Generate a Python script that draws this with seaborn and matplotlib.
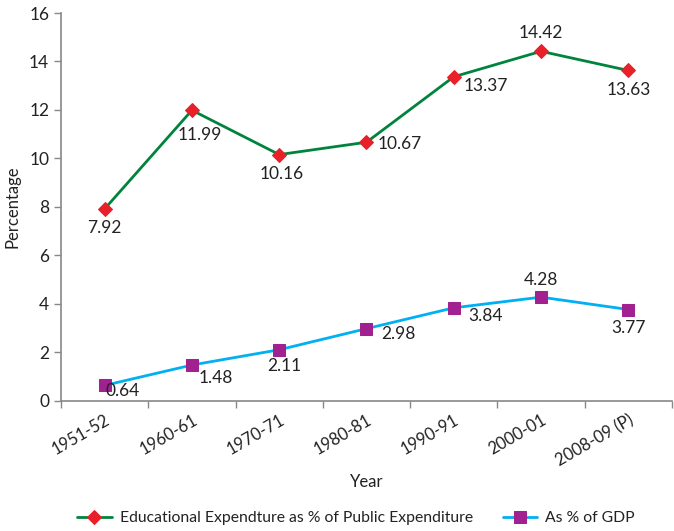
import matplotlib
matplotlib.use("Agg")
import matplotlib.pyplot as plt
import pandas as pd
import seaborn as sb

years = ["1951-52", "1960-61", "1970-71", "1980-81", "1990-91", "2000-01", "2008-09 (P)"]
edu_public = [7.92, 11.99, 10.16, 10.67, 13.37, 14.42, 13.63]
edu_gdp = [0.64, 1.48, 2.11, 2.98, 3.84, 4.28, 3.77]

# label offsets in points (dx, dy)
pub_offsets = [(0, -14), (6, -18), (2, -14), (24, -1), (23, -7), (0, 13), (0, -14)]
gdp_offsets = [(13, -4), (17, -9), (4, -12), (23, -4), (23, -6), (0, 12), (0, -13)]

df = pd.DataFrame({"Year": years, "pub": edu_public, "gdp": edu_gdp})

sb.set_style("white")
plt.rcParams["font.family"] = ["Lato", "DejaVu Sans"]

green = "#00843D"
red = "#E8202A"
blue = "#00B0F0"
purple = "#A0218F"
grey = "#888888"
txt = "#222222"

fig = plt.figure(figsize=(6.74, 5.31), dpi=100)
ax = fig.add_axes([0.0905, 0.245, 0.9065, 0.7305])

sb.lineplot(data=df, x="Year", y="pub", ax=ax, color=green, lw=2, marker="D",
            markersize=7, markerfacecolor=red, markeredgecolor=red,
            label="Educational Expendture as % of Public Expenditure", legend=False)
sb.lineplot(data=df, x="Year", y="gdp", ax=ax, color=blue, lw=2, marker="s",
            markersize=8, markerfacecolor=purple, markeredgecolor=purple,
            label="As % of GDP", legend=False)

for i, v in enumerate(edu_public):
    ax.annotate(f"{v:.2f}", (i, v), xytext=pub_offsets[i], textcoords="offset points",
                ha="center", va="center", fontsize=12.5, color=txt)
for i, v in enumerate(edu_gdp):
    ax.annotate(f"{v:.2f}", (i, v), xytext=gdp_offsets[i], textcoords="offset points",
                ha="center", va="center", fontsize=12.5, color=txt)

ax.set_xlim(-0.5, len(years) - 0.5)
ax.set_ylim(0, 16)
ax.set_yticks(range(0, 17, 2))
ax.set_xticks(range(len(years)))
ax.set_xticklabels(years, rotation=30, ha="right", rotation_mode="anchor", fontsize=12, color=txt)
ax.set_xticks([i - 0.5 for i in range(len(years) + 1)], minor=True)
ax.tick_params(axis="x", which="major", length=0, pad=8)
ax.tick_params(axis="x", which="minor", length=5, width=1, color=grey, direction="out", bottom=True)
ax.tick_params(axis="y", length=5, width=1, color=grey, direction="out", left=True,
               labelsize=12.5, labelcolor=txt)

for s in ["top", "right"]:
    ax.spines[s].set_visible(False)
for s in ["left", "bottom"]:
    ax.spines[s].set_color(grey)
    ax.spines[s].set_linewidth(1.2)

ax.set_xlabel("Year", fontsize=12, labelpad=3, color=txt)
ax.set_ylabel("Percentage", fontsize=12, labelpad=6, color=txt)

handles, labels = ax.get_legend_handles_labels()
fig.legend(handles, labels, loc="center", bbox_to_anchor=(0.528, 0.024), ncol=2, frameon=False,
           fontsize=11.3, handlelength=2.2, handletextpad=0.5, columnspacing=1.9,
           labelcolor=txt, borderaxespad=0, borderpad=0)

fig.savefig("out.png", dpi=100)
